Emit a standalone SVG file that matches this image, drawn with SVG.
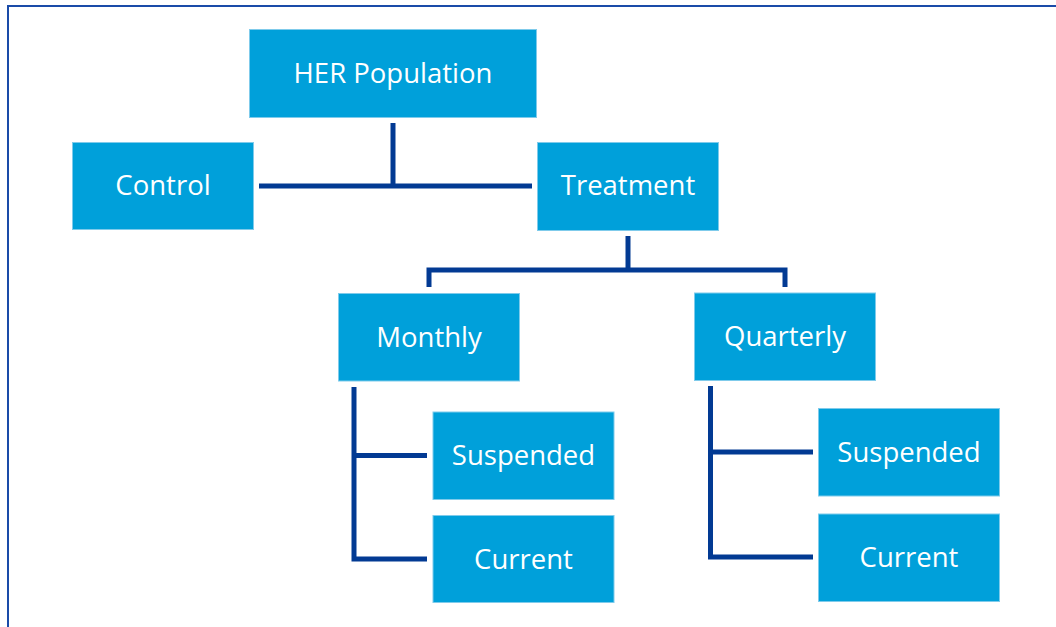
<svg xmlns="http://www.w3.org/2000/svg" width="1056" height="627" viewBox="0 0 1056 627">
<style>
.box{fill:#00A0DA;stroke:#7FCBEB;stroke-width:1}
.lbl{font-family:"Open Sans","Noto Sans","Liberation Sans",sans-serif;font-size:27.5px;fill:#FFFFFF;text-anchor:middle}
.conn{fill:none;stroke:#023A93;stroke-width:5;stroke-linejoin:miter;stroke-linecap:butt}
.frame{fill:none;stroke:#1A4BA8;stroke-width:2}
</style>
<rect width="1056" height="627" fill="#FFFFFF"/>
<path class="frame" d="M8 627 V6 H1056"/>
<g id="connectors">
<path class="conn" d="M393 123 V186"/>
<path class="conn" d="M259 186 H532"/>
<path class="conn" d="M628 236 V270"/>
<path class="conn" d="M429 287 V270 H785 V287"/>
<path class="conn" d="M354 387 V559 H427"/>
<path class="conn" d="M354 455.5 H427"/>
<path class="conn" d="M710.5 386 V557 H813"/>
<path class="conn" d="M710.5 452 H813"/>
</g>
<g id="her-population"><rect class="box" x="249.5" y="29.5" width="287" height="88"/><text class="lbl" x="393" y="82.7">HER Population</text></g>
<g id="control"><rect class="box" x="72.5" y="142.5" width="181" height="87"/><text class="lbl" x="163" y="195">Control</text></g>
<g id="treatment"><rect class="box" x="537.5" y="142.5" width="181" height="88"/><text class="lbl" x="628" y="195.3">Treatment</text></g>
<g id="monthly"><rect class="box" x="338.5" y="293.5" width="181" height="87.5"/><text class="lbl" x="429" y="346.5">Monthly</text></g>
<g id="quarterly"><rect class="box" x="694.5" y="293" width="181" height="87.5"/><text class="lbl" x="785" y="346.3">Quarterly</text></g>
<g id="monthly-suspended"><rect class="box" x="433" y="412" width="181" height="87.5"/><text class="lbl" x="523.5" y="465">Suspended</text></g>
<g id="monthly-current"><rect class="box" x="433" y="515.5" width="181" height="87"/><text class="lbl" x="523.5" y="568.5">Current</text></g>
<g id="quarterly-suspended"><rect class="box" x="818.5" y="408.5" width="181" height="87.5"/><text class="lbl" x="909" y="461.5">Suspended</text></g>
<g id="quarterly-current"><rect class="box" x="818.5" y="514" width="181" height="87.5"/><text class="lbl" x="909" y="567.3">Current</text></g>
</svg>
